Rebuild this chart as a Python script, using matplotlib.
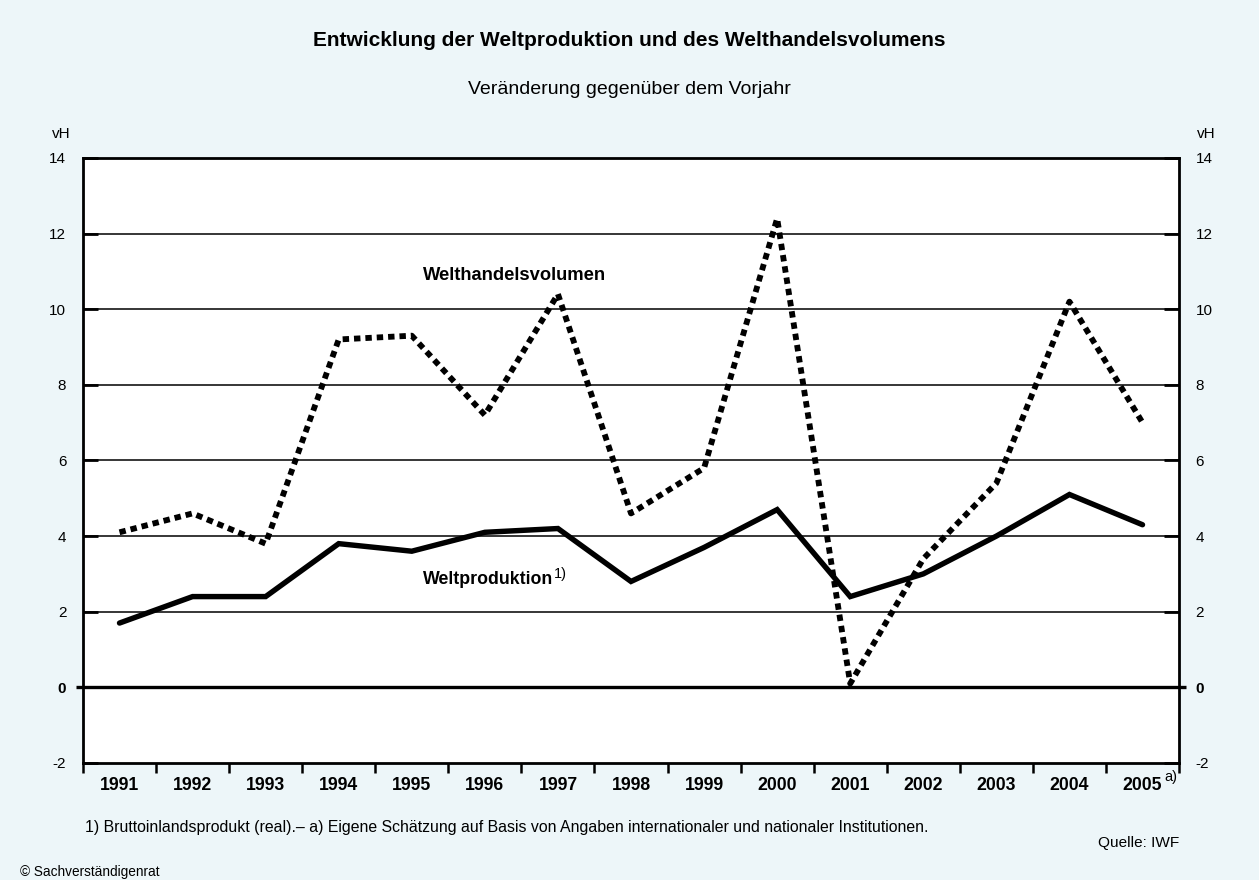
import numpy as np
import matplotlib
matplotlib.use('Agg')
import matplotlib.pyplot as plt
import matplotlib.transforms as mtransforms

plt.rcParams['font.family'] = ['Liberation Sans', 'DejaVu Sans']

# Daten (vH, Veränderung gegenüber dem Vorjahr)
YEARS = ['1991', '1992', '1993', '1994', '1995', '1996', '1997', '1998',
         '1999', '2000', '2001', '2002', '2003', '2004', '2005']
WELTPRODUKTION = [1.7, 2.4, 2.4, 3.8, 3.6, 4.1, 4.2, 2.8,
                  3.7, 4.7, 2.4, 3.0, 4.0, 5.1, 4.3]
WELTHANDEL = [4.1, 4.6, 3.8, 9.2, 9.3, 7.2, 10.4, 4.6,
              5.8, 12.4, 0.1, 3.4, 5.4, 10.2, 7.0]
Y_TICKS = [-2, 0, 2, 4, 6, 8, 10, 12, 14]

BG = '#EDF6F9'

fig = plt.figure(figsize=(12.59, 8.80), dpi=100, facecolor=BG)
ax = fig.add_axes([0.0659, 0.1330, 0.8706, 0.6875])
ax.set_facecolor('white')

x = np.arange(len(YEARS))
ax.set_xlim(-0.5, len(YEARS) - 0.5)
ax.set_ylim(-2, 14)

# Gitterlinien
for v in Y_TICKS[2:-1]:
    ax.axhline(v, color='black', lw=1.1, zorder=1)
# Nulllinie, etwas über die Achsen hinaus
ax.plot([-0.6, len(YEARS) - 0.4], [0, 0], color='black', lw=2.4,
        clip_on=False, zorder=2, solid_capstyle='butt')

ax.plot(x, WELTPRODUKTION, color='black', lw=3.9, zorder=4,
        solid_joinstyle='miter', solid_capstyle='round')
ax.plot(x, WELTHANDEL, color='black', lw=4.2, zorder=5,
        linestyle=(0, (1.1, 0.85)), dash_capstyle='butt')

for s in ax.spines.values():
    s.set_linewidth(2.0)
    s.set_zorder(6)

# y-Achse links und rechts
ax.set_yticks(Y_TICKS)
ax.set_yticklabels([str(v) for v in Y_TICKS])
ax.tick_params(axis='y', which='major', direction='in', length=11, width=2.0,
               left=True, right=True, labelleft=True, labelright=True,
               labelsize=11, pad=12)
for t in ax.yaxis.get_major_ticks():
    if t.label1.get_text() == '0':
        t.label1.set_fontweight('bold')
        t.label2.set_fontweight('bold')

# x-Achse: Striche zwischen den Jahren, Beschriftung mittig
ax.set_xticks(np.arange(-0.5, len(YEARS), 1.0))
ax.set_xticklabels([])
ax.set_xticks(x, minor=True)
ax.set_xticklabels(YEARS, minor=True, fontweight='bold', fontsize=12.7)
ax.tick_params(axis='x', which='major', direction='out', length=7, width=1.8)
ax.tick_params(axis='x', which='minor', length=0, pad=10)

trans = mtransforms.blended_transform_factory(ax.transData, ax.transAxes)
ax.annotate('a)', xy=(14, 0), xycoords=trans, xytext=(16, -10),
            textcoords='offset points', fontsize=10.5, ha='left', va='center')

# Serienbeschriftungen
ax.text(4.15, 10.9, 'Welthandelsvolumen', fontsize=13.2, fontweight='bold',
        ha='left', va='center', zorder=7)
wp = ax.text(4.15, 2.85, 'Weltproduktion', fontsize=12.8, fontweight='bold',
             ha='left', va='center', zorder=7)
ax.annotate('1)', xy=(1.0, 0.85), xycoords=wp, xytext=(0.5, 0),
            textcoords='offset points', fontsize=10.5, ha='left', va='center')

# Titel und Texte
fig.text(0.5, 0.9545, 'Entwicklung der Weltproduktion und des Welthandelsvolumens',
         ha='center', va='center', fontsize=15, fontweight='bold')
fig.text(0.5, 0.898, 'Veränderung gegenüber dem Vorjahr',
         ha='center', va='center', fontsize=14)
fig.text(61 / 1259, 1 - 134 / 880, 'vH', ha='center', va='center', fontsize=11)
fig.text(1206 / 1259, 1 - 134 / 880, 'vH', ha='center', va='center', fontsize=11)
fig.text(85 / 1259, 1 - 827 / 880,
         '1) Bruttoinlandsprodukt (real).– a) Eigene Schätzung auf Basis von Angaben '
         'internationaler und nationaler Institutionen.',
         ha='left', va='center', fontsize=11.4)
fig.text(1179 / 1259, 1 - 843 / 880, 'Quelle: IWF', ha='right', va='center',
         fontsize=11.1)
fig.text(20 / 1259, 1 - 872 / 880, '© Sachverständigenrat', ha='left',
         va='center', fontsize=9.8)

fig.savefig('out.png', dpi=100, facecolor=BG)
